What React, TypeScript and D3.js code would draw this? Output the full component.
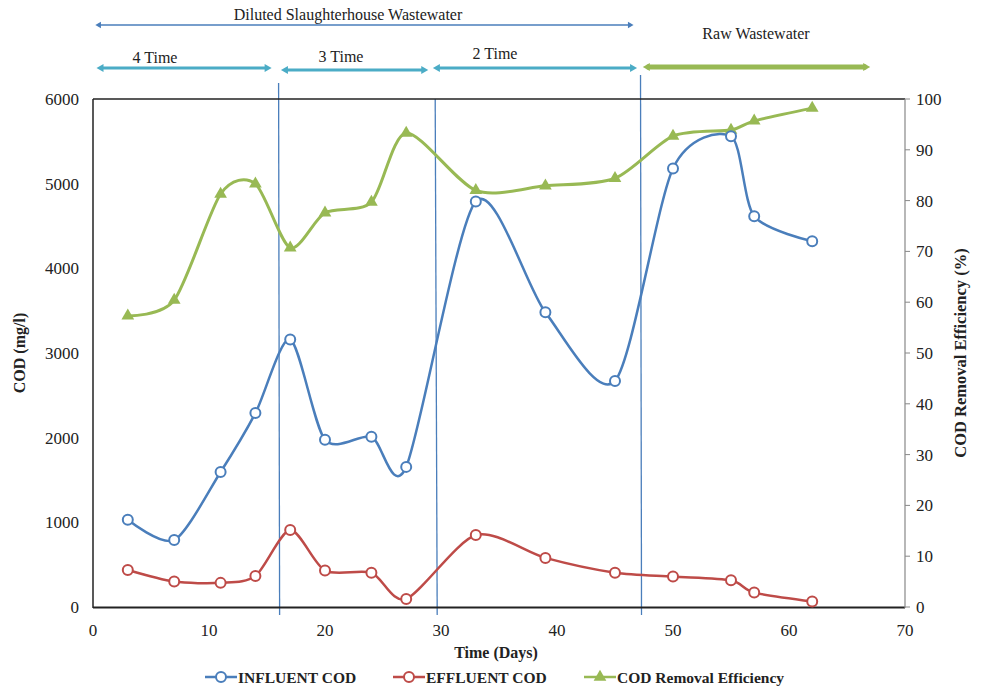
import React from "react";
import * as d3 from "d3";

const days = [3, 7, 11, 14, 17, 20, 24, 27, 33, 39, 45, 50, 55, 57, 62];
const influent = [1030, 790, 1595, 2290, 3160, 1975, 2010, 1655, 4790, 3480, 2670, 5180, 5560, 4615, 4320];
const effluent = [437, 300, 285, 366, 909, 430, 405, 95, 850, 580, 405, 360, 315, 170, 65];
const efficiency = [57.3, 60.4, 81.3, 83.3, 70.7, 77.6, 79.7, 93.3, 82, 82.9, 84.4, 92.7, 93.9, 95.7, 98.2];

const xTicks = [0, 10, 20, 30, 40, 50, 60, 70];
const yLeftTicks = [0, 1000, 2000, 3000, 4000, 5000, 6000];
const yRightTicks = [0, 10, 20, 30, 40, 50, 60, 70, 80, 90, 100];

const phaseLines = [16, 29.5, 47.2];
const phaseLabels = ["4 Time", "3  Time", "2 Time"];
const phaseRanges = [[0.3, 15.4], [16.2, 28.9], [29.3, 46.9]];
const dilutedRange = [0.2, 46.6];
const rawRange = [47.4, 67.0];

const legendItems = ["INFLUENT COD", "EFFLUENT COD", "COD Removal Efficiency"];

const BLUE = "#4A7EBB";
const RED = "#BE4B48";
const GREEN = "#98B954";
const TEAL = "#4BACC6";
const FONT = "'Liberation Serif', 'Times New Roman', serif";

function Arrow({ x1, x2, y, color, w, head }: any) {
  return (
    <g>
      <line x1={x1 + head * 0.8} x2={x2 - head * 0.8} y1={y} y2={y} stroke={color} strokeWidth={w} />
      <path d={`M${x1},${y} L${x1 + head * 1.4},${y - head * 0.8} L${x1 + head * 1.4},${y + head * 0.8} Z`} fill={color} />
      <path d={`M${x2},${y} L${x2 - head * 1.4},${y - head * 0.8} L${x2 - head * 1.4},${y + head * 0.8} Z`} fill={color} />
    </g>
  );
}

export default function App() {
  const W = 986, H = 687;
  const x = d3.scaleLinear().domain([0, 70]).range([93, 905]);
  const yL = d3.scaleLinear().domain([0, 6000]).range([607, 99]);
  const yR = d3.scaleLinear().domain([0, 100]).range([607, 99]);
  const curve = d3.curveCardinal.tension(0.2);

  const lineL = d3.line<number>().x((_, i) => x(days[i])).y((d) => yL(d)).curve(curve);
  const lineR = d3.line<number>().x((_, i) => x(days[i])).y((d) => yR(d)).curve(curve);
  const tri = d3.symbol().type(d3.symbolTriangle).size(70)();

  const legendX = [205, 393, 584];
  const legendColors = [BLUE, RED, GREEN];

  return (
    <svg width={W} height={H} style={{ position: "absolute", left: 0, top: 0, background: "#fff" }} fontFamily={FONT}>
      {/* phase vertical lines */}
      {phaseLines.map((d, i) => (
        <line key={i} x1={x(d)} x2={x(d) + (i === 1 ? 2 : 1)} y1={i === 1 ? 99 : i === 0 ? 83 : 75} y2={615} stroke={BLUE} strokeWidth={1.3} />
      ))}

      {/* plot frame */}
      <line x1={93} x2={905} y1={99} y2={99} stroke="#222" strokeWidth={1.5} />
      <line x1={93} x2={93} y1={99} y2={608} stroke="#222" strokeWidth={1.5} />
      <line x1={93} x2={905} y1={607.5} y2={607.5} stroke="#222" strokeWidth={1.8} />
      <line x1={905} x2={905} y1={99} y2={608} stroke="#888" strokeWidth={1.2} />
      {yRightTicks.map((t) => (
        <line key={t} x1={905} x2={910} y1={yR(t)} y2={yR(t)} stroke="#888" strokeWidth={1} />
      ))}

      {/* tick labels */}
      {yLeftTicks.map((t) => (
        <text key={t} x={79} y={yL(t) + 6} textAnchor="end" fontSize={17} fill="#222">{t}</text>
      ))}
      {yRightTicks.map((t) => (
        <text key={t} x={916} y={yR(t) + 6} textAnchor="start" fontSize={17} fill="#222">{t}</text>
      ))}
      {xTicks.map((t) => (
        <text key={t} x={x(t)} y={636} textAnchor="middle" fontSize={17} fill="#222">{t}</text>
      ))}

      {/* axis titles */}
      <text x={496} y={658} textAnchor="middle" fontSize={16} fontWeight="bold" fill="#222">Time (Days)</text>
      <text transform="translate(25,353) rotate(-90)" textAnchor="middle" fontSize={16} fontWeight="bold" fill="#222">COD (mg/l)</text>
      <text transform="translate(966,353) rotate(-90)" textAnchor="middle" fontSize={16.5} fontWeight="bold" fill="#222">COD Removal Efficiency (%)</text>

      {/* series */}
      <path d={lineR(efficiency) || ""} fill="none" stroke={GREEN} strokeWidth={3} />
      <path d={lineL(influent) || ""} fill="none" stroke={BLUE} strokeWidth={2.5} />
      <path d={lineL(effluent) || ""} fill="none" stroke={RED} strokeWidth={2.5} />
      {efficiency.map((d, i) => (
        <path key={i} d={tri || ""} transform={`translate(${x(days[i])},${yR(d)})`} fill={GREEN} />
      ))}
      {influent.map((d, i) => (
        <circle key={i} cx={x(days[i])} cy={yL(d)} r={5} fill="#fff" stroke={BLUE} strokeWidth={2} />
      ))}
      {effluent.map((d, i) => (
        <circle key={i} cx={x(days[i])} cy={yL(d)} r={5} fill="#fff" stroke={RED} strokeWidth={2} />
      ))}

      {/* annotations */}
      <text x={348} y={20} textAnchor="middle" fontSize={16} fill="#222">Diluted Slaughterhouse Wastewater</text>
      <Arrow x1={x(dilutedRange[0])} x2={x(dilutedRange[1])} y={25} color={BLUE} w={1.3} head={4} />
      {phaseRanges.map((r, i) => (
        <g key={i}>
          <Arrow x1={x(r[0])} x2={x(r[1])} y={i === 1 ? 70 : 68} color={TEAL} w={3} head={5} />
          <text x={[155, 341, 495][i]} y={[63, 62, 59][i]} textAnchor="middle" fontSize={16} fill="#222">{phaseLabels[i]}</text>
        </g>
      ))}
      <text x={756} y={39} textAnchor="middle" fontSize={16} fill="#222">Raw Wastewater</text>
      <Arrow x1={x(rawRange[0])} x2={x(rawRange[1])} y={67} color={GREEN} w={5} head={5} />

      {/* legend */}
      {legendItems.map((s, i) => (
        <g key={s}>
          <line x1={legendX[i]} x2={legendX[i] + 32} y1={677} y2={677} stroke={legendColors[i]} strokeWidth={2.5} />
          {i < 2 ? (
            <circle cx={legendX[i] + 16} cy={677} r={5} fill="#fff" stroke={legendColors[i]} strokeWidth={2} />
          ) : (
            <path d={tri || ""} transform={`translate(${legendX[i] + 16},677)`} fill={GREEN} />
          )}
          <text x={legendX[i] + 33} y={683} fontSize={15.5} fontWeight="bold" fill="#222">{s}</text>
        </g>
      ))}
    </svg>
  );
}
